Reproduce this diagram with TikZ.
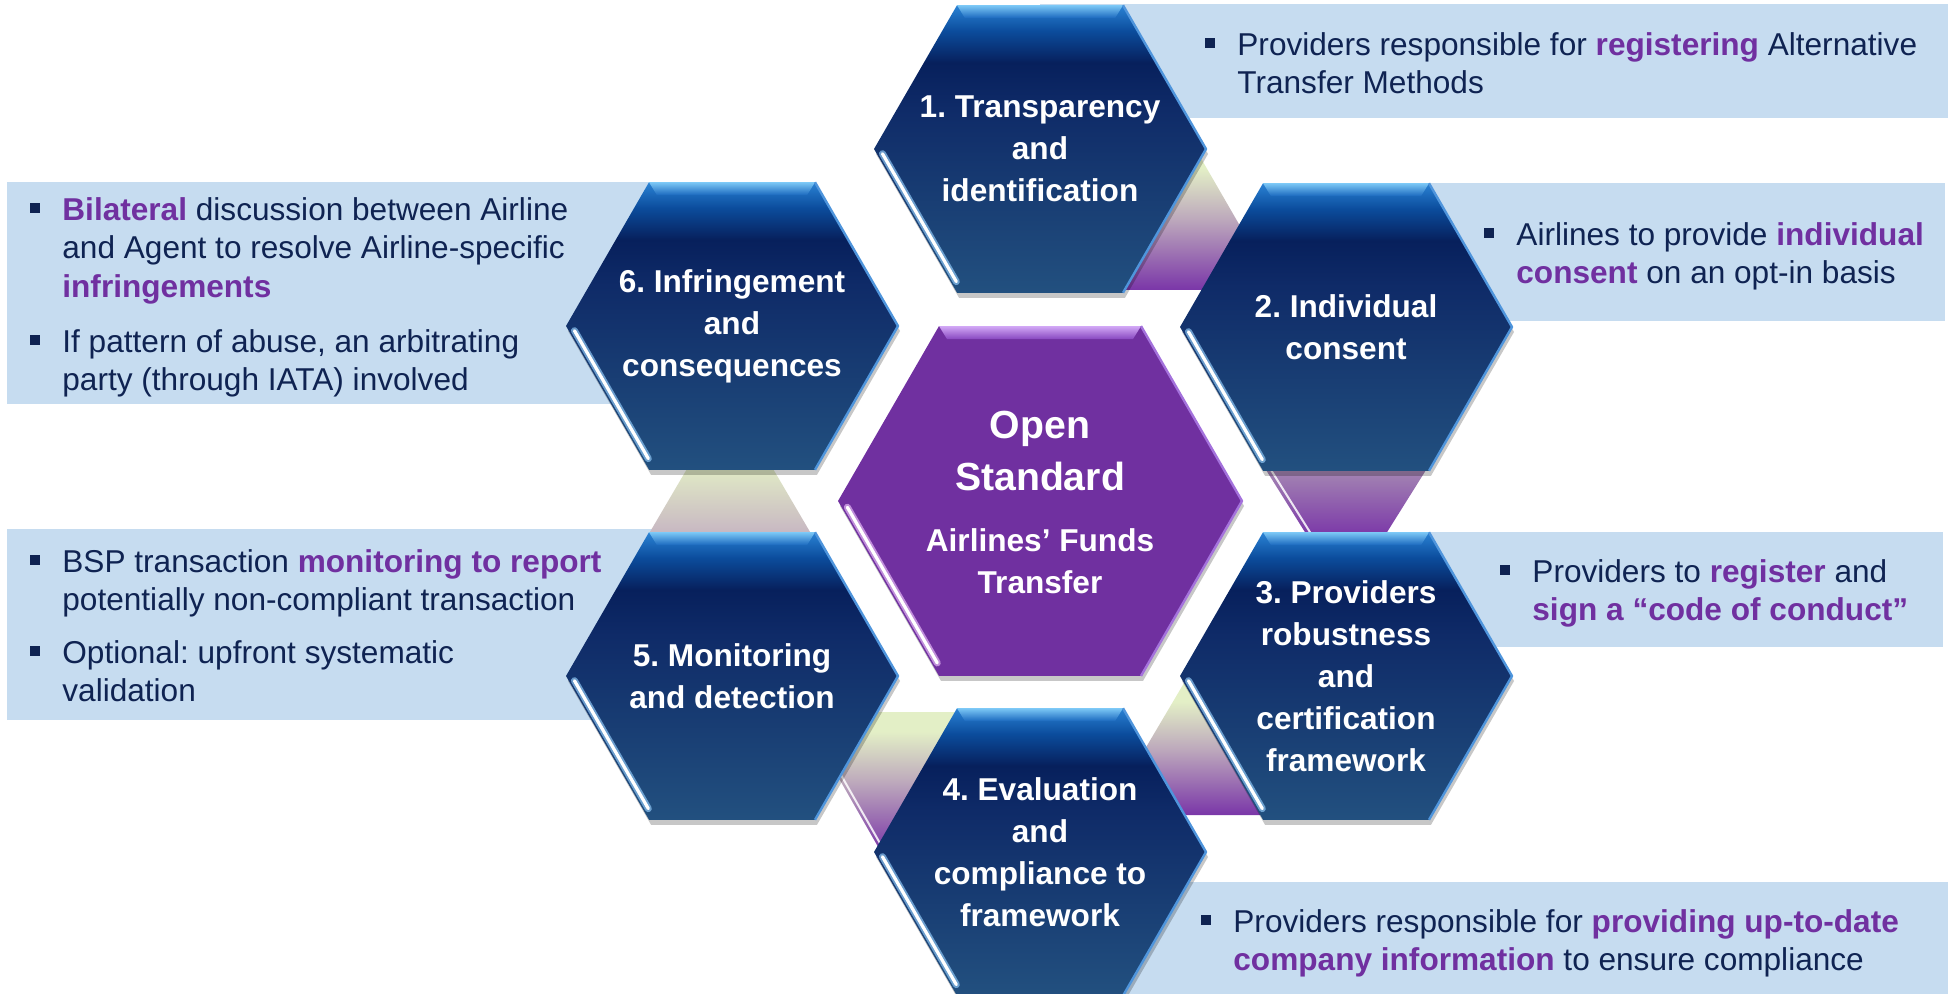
\documentclass[tikz,border=0pt]{standalone}
\usepackage{fontspec}
\setmainfont{Liberation Sans}
\usetikzlibrary{calc}
\usetikzlibrary{positioning}
\frenchspacing

\definecolor{boxblue}{HTML}{C6DCF0}
\definecolor{txtnavy}{HTML}{0F2352}
\definecolor{hlpurple}{HTML}{7030A0}
\definecolor{hextop}{HTML}{2A82D4}
\definecolor{hexup}{HTML}{0B4C9C}
\definecolor{hexdark}{HTML}{07205C}
\definecolor{hexmid}{HTML}{0F2B68}
\definecolor{hexbot}{HTML}{22507F}
\definecolor{rimblue}{HTML}{4F95DC}
\definecolor{glowblue}{HTML}{8CC4F2}
\definecolor{bevtop}{HTML}{7CC8F6}
\definecolor{bevbot}{HTML}{1A68BE}
\definecolor{centpurple}{HTML}{7030A0}
\definecolor{centrim}{HTML}{A472DC}
\definecolor{centglow}{HTML}{E2B6F4}
\definecolor{centbevtop}{HTML}{D2A8F6}
\definecolor{centbevbot}{HTML}{8848C0}
\definecolor{connA}{HTML}{E3EFC6}
\definecolor{connB}{HTML}{BDA9BC}
\definecolor{connC}{HTML}{7A36A8}
\definecolor{connD}{HTML}{A98FB4}
\definecolor{connE}{HTML}{C6B4C2}

\pgfdeclareverticalshading{hexblue}{100bp}{color(0bp)=(hexbot); color(25bp)=(hexbot); color(57bp)=(hexmid); color(65bp)=(hexdark); color(70.5bp)=(hexup); color(75bp)=(hextop); color(100bp)=(hextop)}
\pgfdeclareverticalshading{connshade}{100bp}{color(0bp)=(connC); color(25bp)=(connC); color(50bp)=(connB); color(68bp)=(connA); color(75bp)=(connA); color(100bp)=(connA)}

\newcommand{\hilite}[1]{\textcolor{hlpurple}{\bfseries #1}}
\newcommand{\firstline}{\rule{0pt}{12pt}}

\begin{document}
\begin{tikzpicture}[
  x=0.5pt, y=-0.5pt,
  infobox/.style = {fill=boxblue},
  infotext/.style = {anchor=north west, inner sep=0pt, align=left, text=txtnavy,
    font=\fontsize{15.8}{19.25}\selectfont},
  bulletsq/.style = {fill=txtnavy, inner sep=0pt, minimum size=5pt},
  hexlabel/.style = {text=white, align=center, inner sep=0pt, font=\fontsize{15.8}{21}\selectfont\bfseries},
  conn/.style = {shading=connshade},
  hexshadow/.style = {fill=black, opacity=.22, transform canvas={xshift=1pt, yshift=-2.5pt}},
  rim/.style = {draw=rimblue, line width=1.2pt, line join=round},
  glow/.style = {draw=glowblue, line width=3.5pt, line cap=round, opacity=.7},
  shine/.style = {draw=white, line width=1.6pt, line cap=round}
  ]
	\useasboundingbox (0,0) rectangle (1952,994);

	\coordinate (h1) at (1040,149);
	\coordinate (h2) at (1346,327);
	\coordinate (h3) at (1346,676);
	\coordinate (h4) at (1040,852);
	\coordinate (h5) at (732,676);
	\coordinate (h6) at (732,326);
	\coordinate (hc) at (1040,501);

	\foreach \c/\r in {h1/166,h2/166,h3/166,h4/166,h5/166,h6/166,hc/202}
		\foreach \a in {0,60,...,300}
			\coordinate (\c-\a) at ($(\c)+(\a:\r)$);

	\fill[infobox] (1040,4) rectangle (1948,118);
	\fill[infobox] (1346,183) rectangle (1945,321);
	\fill[infobox] (1346,532) rectangle (1943,647);
	\fill[infobox] (1040,882) rectangle (1948,994);
	\fill[infobox] (7,182) rectangle (732,404);
	\fill[infobox] (7,529) rectangle (732,720);

	\coordinate (k12a) at (1195,148);
	\coordinate (k12b) at (1277,290);
	\coordinate (k12c) at (1113,290);
	\coordinate (k23a) at (1261,462);
	\coordinate (k23b) at (1431,462);
	\coordinate (k23c) at (1384,537);
	\coordinate (k23d) at (1308,537);
	\coordinate (k34a) at (1184,683);
	\coordinate (k34b) at (1262,815);
	\coordinate (k34c) at (1106,815);
	\coordinate (k45a) at (801,712);
	\coordinate (k45b) at (962,712);
	\coordinate (k45c) at (881,852);
	\coordinate (k56a) at (691,462);
	\coordinate (k56b) at (769,462);
	\coordinate (k56c) at (813,537);
	\coordinate (k56d) at (647,537);

	\shade[conn] (k12a) -- (k12b) -- (k12c) -- cycle;
	\shade[top color=connD, bottom color=connC] (k23a) -- (k23b) -- (k23c) -- (k23d) -- cycle;
	\draw[white, line width=1pt, opacity=.85] ($(k23a)+(5,0)$) -- ($(k23d)+(5,0)$);
	\shade[conn] (k34a) -- (k34b) -- (k34c) -- cycle;
	\shade[conn] (k45a) -- (k45b) -- (k45c) -- cycle;
	\draw[white, line width=1pt, opacity=.85] ($(k45a)!0.45!(k45c)+(4,0)$) -- ($(k45a)!0.96!(k45c)+(4,0)$);
	\shade[top color=connA, bottom color=connE] (k56a) -- (k56b) -- (k56c) -- (k56d) -- cycle;

	\foreach \c in {h1,h2,h3,h4,h5,h6} {
		\fill[hexshadow] (\c-0) -- (\c-60) -- (\c-120) -- (\c-180) -- (\c-240) -- (\c-300) -- cycle;
		\shade[shading=hexblue] (\c-0) -- (\c-60) -- (\c-120) -- (\c-180) -- (\c-240) -- (\c-300) -- cycle;
		\shade[top color=bevtop, bottom color=bevbot] (\c-240) -- (\c-300) -- ($(\c-300)+(-8,13)$) -- ($(\c-240)+(8,13)$) -- cycle;
		\draw[rim] (\c-300) -- (\c-0) -- (\c-60);
		\draw[glow] ($(\c-180)!0.05!(\c-120)+(4.3,-2.5)$) -- ($(\c-180)!0.94!(\c-120)+(4.3,-2.5)$);
		\draw[shine] ($(\c-180)!0.05!(\c-120)+(4.3,-2.5)$) -- ($(\c-180)!0.94!(\c-120)+(4.3,-2.5)$);
	}

	\fill[hexshadow] (hc-0) -- (hc-60) -- (hc-120) -- (hc-180) -- (hc-240) -- (hc-300) -- cycle;
	\fill[centpurple] (hc-0) -- (hc-60) -- (hc-120) -- (hc-180) -- (hc-240) -- (hc-300) -- cycle;
	\shade[top color=centbevtop, bottom color=centbevbot] (hc-240) -- (hc-300) -- ($(hc-300)+(-8,13)$) -- ($(hc-240)+(8,13)$) -- cycle;
	\draw[rim, draw=centrim] (hc-300) -- (hc-0) -- (hc-60);
	\draw[glow, draw=centglow] ($(hc-180)!0.05!(hc-120)+(4.3,-2.5)$) -- ($(hc-180)!0.94!(hc-120)+(4.3,-2.5)$);
	\draw[shine] ($(hc-180)!0.05!(hc-120)+(4.3,-2.5)$) -- ($(hc-180)!0.94!(hc-120)+(4.3,-2.5)$);

	\node[hexlabel] (t1) at (h1) {1. Transparency\\and\\identification};
	\node[hexlabel] (t2) at (h2) {2. Individual\\consent};
	\node[hexlabel] (t3) at (h3) {3. Providers\\robustness\\and\\certification\\framework};
	\node[hexlabel] (t4) at (h4) {4. Evaluation\\and\\compliance to\\framework};
	\node[hexlabel] (t5) at (h5) {5. Monitoring\\and detection};
	\node[hexlabel] (t6) at (h6) {6. Infringement\\and\\consequences};
	\node[hexlabel, font=\fontsize{19.6}{26}\selectfont\bfseries] (tc1) at (1040,451) {Open\\Standard};
	\node[hexlabel] (tc2) at (1040,561) {Airlines’ Funds\\Transfer};

	\node[infotext] (d1) at (1237,31) {\firstline Providers responsible for \hilite{registering} Alternative\\Transfer Methods};
	\node[infotext] (d2) at (1516,221) {\firstline Airlines to provide \hilite{individual}\\\hilite{consent} on an opt-in basis};
	\node[infotext] (d3) at (1532,558) {\firstline Providers to \hilite{register} and\\\hilite{sign a “code of conduct”}};
	\node[infotext] (d4) at (1233,908) {\firstline Providers responsible for \hilite{providing up-to-date}\\\hilite{company information} to ensure compliance};
	\node[infotext] (d6a) at (62,196) {\firstline\hilite{Bilateral} discussion between Airline\\and Agent to resolve Airline-specific\\\hilite{infringements}};
	\node[infotext] (d6b) at (62,328) {\firstline If pattern of abuse, an arbitrating\\party (through IATA) involved};
	\node[infotext] (d5a) at (62,548) {\firstline BSP transaction \hilite{monitoring to report}\\potentially non-compliant transaction};
	\node[infotext] (d5b) at (62,639) {\firstline Optional: upfront systematic\\validation};

	\foreach \d in {d1,d2,d3,d4,d6a,d6b,d5a,d5b}
		\node[bulletsq] (b-\d) at ($(\d.north west)+(-27,12)$) {};
\end{tikzpicture}
\end{document}
